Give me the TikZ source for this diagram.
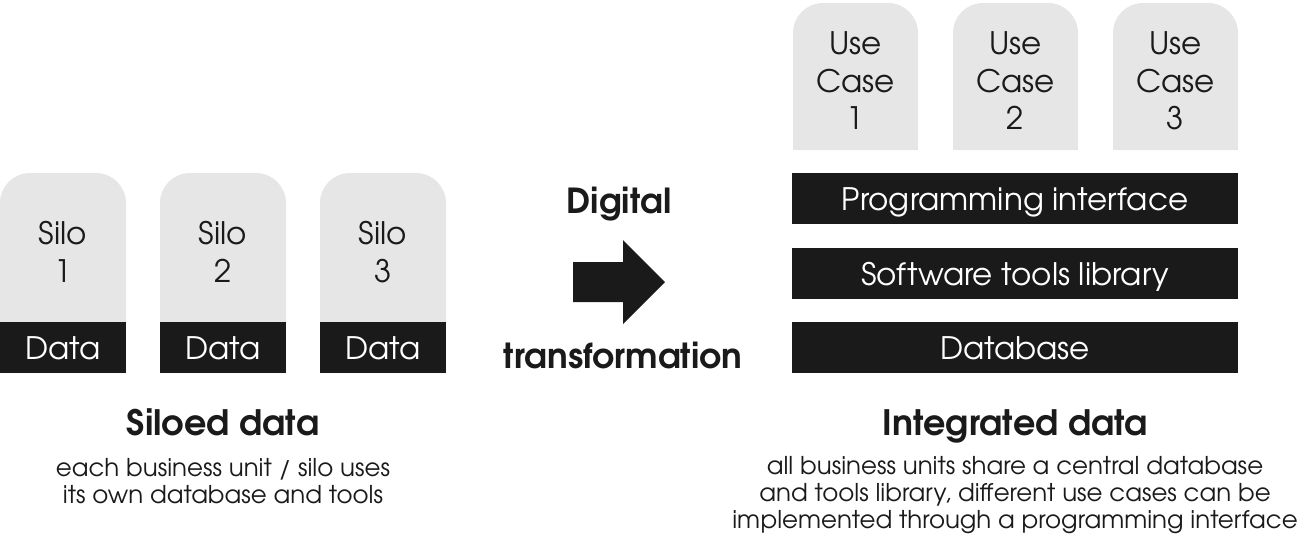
\documentclass[tikz,border=0pt]{standalone}
\usepackage{fontspec}
\setmainfont{TeX Gyre Adventor}
\usetikzlibrary{calc}
\definecolor{silogray}{HTML}{E6E6E6}
\definecolor{barblack}{HTML}{1A1A1A}
\tikzset{
  boxtext/.style={font=\fontsize{31}{37.5}\selectfont,align=center,text=barblack,inner sep=0pt},
  bartext/.style={boxtext,text=white,anchor=base},
  arrowtext/.style={font=\fontsize{34.5}{40}\selectfont\bfseries,text=barblack,inner sep=0pt,anchor=base},
  headtext/.style={font=\fontsize{35}{40}\selectfont\bfseries,text=barblack,inner sep=0pt,anchor=base},
  subtext/.style={font=\fontsize{24.5}{27}\selectfont,align=center,text=barblack,inner sep=0pt}
}
\begin{document}
\begin{tikzpicture}[x=1pt,y=-1pt]
\useasboundingbox (0,0) rectangle (1304,542);
% draw silos
\foreach \i/\x in {1/0,2/160,3/320}{
  \fill[silogray] (\x,373) -- (\x,203) arc[start angle=180,end angle=270,radius=30] -- (\x+96,173) arc[start angle=270,end angle=360,radius=30] -- (\x+126,373) -- cycle;
  \fill[barblack] (\x,322) rectangle (\x+126,373);
  \node[boxtext] (silo\i) at (\x+63,252) {Silo\\\i};
  \node[bartext] (data\i) at (\x+63,359.5) {Data};
}
% draw arrow
\fill[barblack] (573,262) -- (623,262) -- (623,240) -- (665,282) -- (623,324) -- (623,302) -- (573,302) -- cycle;
\node[arrowtext] (digital) at (619,213) {Digital};
\node[arrowtext] (transf) at (623,368) {transformation};
% draw use cases
\foreach \i/\x in {1/793,2/953,3/1113}{
  \fill[silogray] (\x,150) -- (\x,33) arc[start angle=180,end angle=270,radius=30] -- (\x+95,3) arc[start angle=270,end angle=360,radius=30] -- (\x+125,150) -- cycle;
  \node[boxtext] (case\i) at (\x+62.5,81) {Use\\Case\\\i};
}
% draw layers
\foreach \name/\y/\txt in {api/173/Programming interface,tools/248/Software tools library,db/322/Database}{
  \fill[barblack] (792,\y) rectangle (1238,\y+51);
  \node[bartext] (\name) at (1015,\y+37.5) {\txt};
}
% draw captions
\node[headtext] (siloed) at (223,435) {Siloed data};
\node[subtext] (siloedsub) at (223,481) {each business unit / silo uses\\its own database and tools};
\node[headtext] (integr) at (1015,435) {Integrated data};
\node[subtext] (integrsub) at (1015,495) {all business units share a central database\\and tools library, different use cases can be\\implemented through a programming interface};
\end{tikzpicture}
\end{document}
